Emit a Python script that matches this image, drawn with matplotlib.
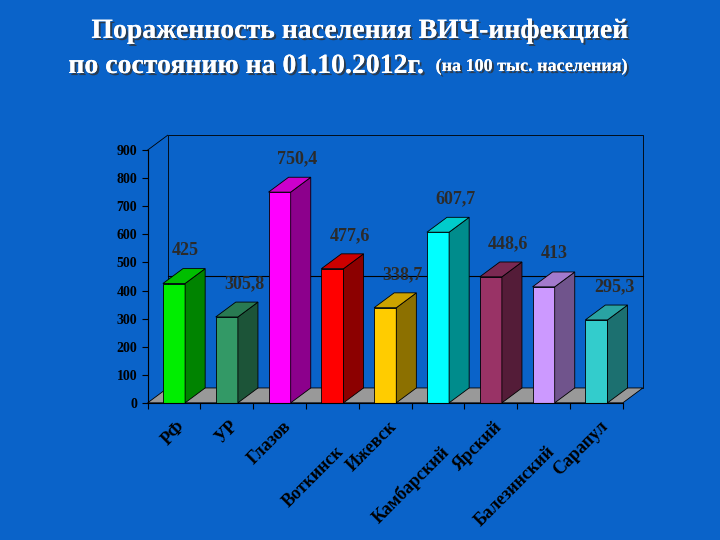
import numpy as np
import matplotlib.pyplot as plt
from matplotlib.patches import Polygon
import matplotlib.colors as mc
import matplotlib.patheffects as pe

categories = ['РФ', 'УР', 'Глазов', 'Воткинск', 'Ижевск', 'Камбарский', 'Ярский', 'Балезинский', 'Сарапул']
values = [425, 305.8, 750.4, 477.6, 338.7, 607.7, 448.6, 413, 295.3]
labels = ['425', '305,8', '750,4', '477,6', '338,7', '607,7', '448,6', '413', '295,3']
colors = ['#00ee00', '#339966', '#ff00ff', '#ff0000', '#ffcc00', '#00ffff', '#993366', '#cc99ff', '#33cccc']

plt.rcParams['font.family'] = ['Liberation Serif', 'DejaVu Serif']
bg = '#0a63c9'
fig = plt.figure(figsize=(7.2, 5.4), dpi=100, facecolor=bg)
ax = fig.add_axes([0.205, 0.254, 0.66, 0.468])
ax.set_facecolor('none')
ax.set_xlim(0, len(categories))
ax.set_ylim(0, 900)

dx, dy = 0.38, 53
w = 0.42
n = len(categories)

def poly(pts, fc, ec='black', lw=0.6, z=1):
    ax.add_patch(Polygon(pts, closed=True, facecolor=fc, edgecolor=ec, lw=lw, zorder=z, clip_on=False))

# back wall, floor
poly([(dx, dy), (n + dx, dy), (n + dx, 900 + dy), (dx, 900 + dy)], bg, z=0)
poly([(0, 0), (n, 0), (n + dx, dy), (dx, dy)], '#999999', z=0.5)
ax.plot([dx, n + dx], [400 + dy, 400 + dy], color='black', lw=0.8, zorder=0.6, clip_on=False)
ax.plot([0, dx], [900, 900 + dy], color='black', lw=0.6, clip_on=False)

def darker(c, f):
    r, g, b = mc.to_rgb(c)
    return (r * f, g * f, b * f)

for i, (v, c, lab) in enumerate(zip(values, colors, labels)):
    x0 = i + 0.5 - w / 2
    x1 = x0 + w
    poly([(x0, 0), (x1, 0), (x1, v), (x0, v)], c, z=2)
    poly([(x1, 0), (x1 + dx, dy), (x1 + dx, v + dy), (x1, v)], darker(c, 0.55), z=2)
    poly([(x0, v), (x1, v), (x1 + dx, v + dy), (x0 + dx, v + dy)], darker(c, 0.8), z=2)
    ax.text(i + 0.45, v + dy + 35, lab, fontsize=13, fontweight='bold', color='#2b2b2b',
            ha='left', va='bottom', zorder=3)

ax.set_yticks(range(0, 901, 100))
ax.tick_params(axis='y', labelsize=10, length=4, direction='out')
for t in ax.get_yticklabels():
    t.set_fontweight('bold')
ax.set_xticks(range(0, n + 1))
ax.set_xticklabels([])
ax.tick_params(axis='x', length=4)
for s in ['top', 'right']:
    ax.spines[s].set_visible(False)

for i, cat in enumerate(categories):
    yoff = -0.16 if i in (3, 5, 7) else -0.06
    ax.text(i + 0.55, yoff, cat, transform=ax.get_xaxis_transform(), rotation=45,
            rotation_mode='anchor', ha='right', va='top', fontsize=13,
            fontweight='bold', color='black')

shadow = [pe.withSimplePatchShadow(offset=(1.5, -1.5), shadow_rgbFace='#333333', alpha=0.8), pe.Normal()]
fig.text(0.5, 0.965, 'Пораженность населения ВИЧ-инфекцией', ha='center', va='top',
         fontsize=20, fontweight='bold', color='white', path_effects=shadow)
fig.text(0.095, 0.9, 'по состоянию на 01.10.2012г.', ha='left', va='top',
         fontsize=20, fontweight='bold', color='white', path_effects=shadow)
fig.text(0.605, 0.893, '(на 100 тыс. населения)', ha='left', va='top',
         fontsize=13, fontweight='bold', color='white', path_effects=shadow)

fig.savefig('out.png', dpi=100, facecolor=bg)
